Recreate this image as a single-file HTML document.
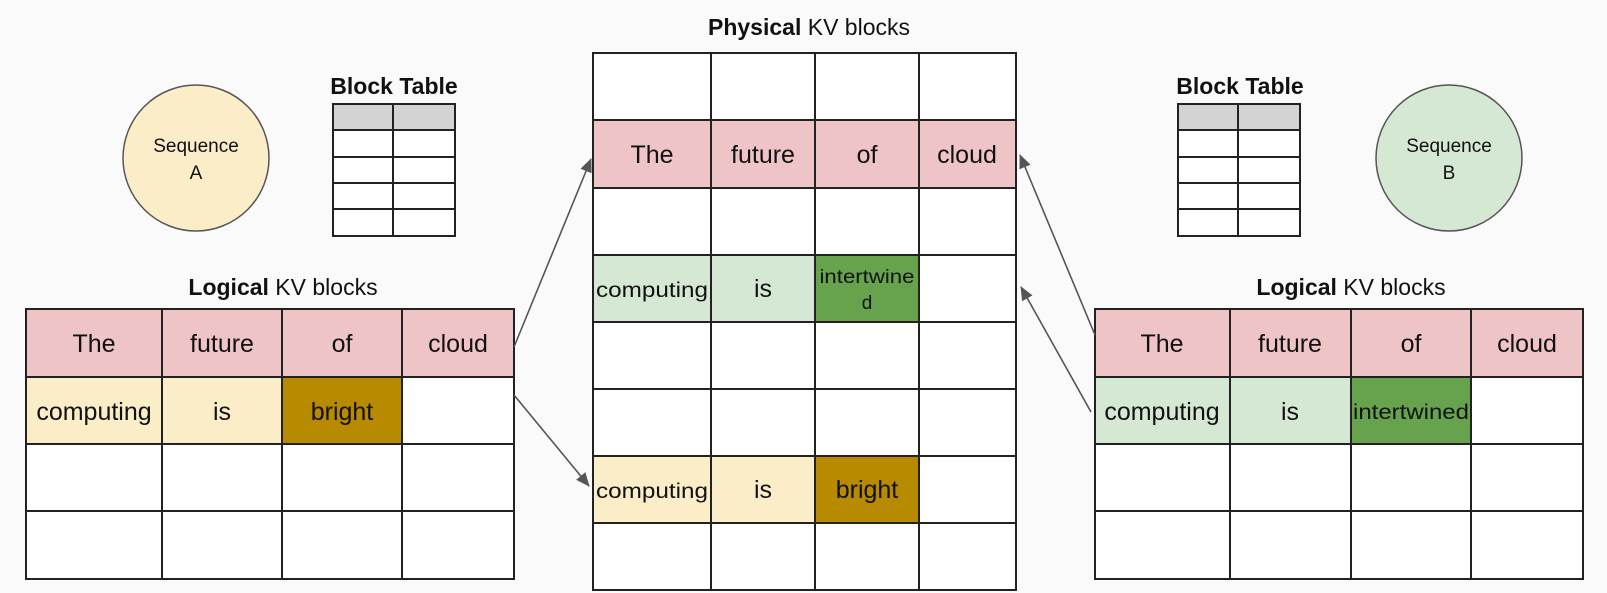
<!DOCTYPE html>
<html><head><style>
body{margin:0;background:#fafafa;}
svg{display:block}
text{font-family:"Liberation Sans",sans-serif;fill:#111;}
</style></head><body>
<svg width="1607" height="593" viewBox="0 0 1607 593" xmlns="http://www.w3.org/2000/svg">
<defs><marker id="ah" markerWidth="14" markerHeight="12" refX="13" refY="6" orient="auto" markerUnits="userSpaceOnUse"><path d="M0,0 L14,6 L0,12 Z" fill="#555"/></marker></defs>
<rect width="1607" height="593" fill="#fafafa"/>

<circle cx="196" cy="158" r="73" fill="#fbedc7" stroke="#555" stroke-width="1.5"/>
<text x="196" y="152" font-size="19" text-anchor="middle">Sequence</text>
<text x="196" y="179" font-size="19" text-anchor="middle">A</text>
<text x="394" y="94" font-size="23" font-weight="bold" text-anchor="middle">Block Table</text>
<g stroke="#222" stroke-width="2">
<rect x="333" y="104" width="122" height="26" fill="#d3d3d3"/>
<rect x="333" y="130" width="122" height="106" fill="#fff"/>
<line x1="393" y1="104" x2="393" y2="236"/>
<line x1="333" y1="157" x2="455" y2="157"/><line x1="333" y1="183" x2="455" y2="183"/><line x1="333" y1="209" x2="455" y2="209"/>
</g>
<circle cx="1449" cy="158" r="73" fill="#d5e8d4" stroke="#555" stroke-width="1.5"/>
<text x="1449" y="152" font-size="19" text-anchor="middle">Sequence</text>
<text x="1449" y="179" font-size="19" text-anchor="middle">B</text>
<text x="1240" y="94" font-size="23" font-weight="bold" text-anchor="middle">Block Table</text>
<g stroke="#222" stroke-width="2">
<rect x="1178" y="104" width="122" height="26" fill="#d3d3d3"/>
<rect x="1178" y="130" width="122" height="106" fill="#fff"/>
<line x1="1238" y1="104" x2="1238" y2="236"/>
<line x1="1178" y1="157" x2="1300" y2="157"/><line x1="1178" y1="183" x2="1300" y2="183"/><line x1="1178" y1="209" x2="1300" y2="209"/>
</g>

<text x="283" y="295" font-size="23" text-anchor="middle"><tspan font-weight="bold">Logical</tspan> KV blocks</text>
<g stroke="#222" stroke-width="2">
<rect x="26" y="309" width="488" height="270" fill="#fff"/>
<rect x="26" y="309" width="488" height="68" fill="#eec4c6"/>
<rect x="26" y="377" width="256" height="67" fill="#fbedc7"/>
<rect x="282" y="377" width="120" height="67" fill="#b88a00"/>
<line x1="162" y1="309" x2="162" y2="579"/><line x1="282" y1="309" x2="282" y2="579"/><line x1="402" y1="309" x2="402" y2="579"/>
<line x1="26" y1="377" x2="514" y2="377"/><line x1="26" y1="444" x2="514" y2="444"/><line x1="26" y1="511" x2="514" y2="511"/>
</g>
<g font-size="25" text-anchor="middle">
<text x="94" y="352">The</text><text x="222" y="352">future</text><text x="342" y="352">of</text><text x="458" y="352">cloud</text>
<text x="94" y="420">computing</text><text x="222" y="420">is</text><text x="342" y="420">bright</text>
</g>

<text x="1351" y="295" font-size="23" text-anchor="middle"><tspan font-weight="bold">Logical</tspan> KV blocks</text>
<g stroke="#222" stroke-width="2">
<rect x="1095" y="309" width="488" height="270" fill="#fff"/>
<rect x="1095" y="309" width="488" height="68" fill="#eec4c6"/>
<rect x="1095" y="377" width="256" height="67" fill="#d5e8d4"/>
<rect x="1351" y="377" width="120" height="67" fill="#67a34c"/>
<line x1="1230" y1="309" x2="1230" y2="579"/><line x1="1351" y1="309" x2="1351" y2="579"/><line x1="1471" y1="309" x2="1471" y2="579"/>
<line x1="1095" y1="377" x2="1583" y2="377"/><line x1="1095" y1="444" x2="1583" y2="444"/><line x1="1095" y1="511" x2="1583" y2="511"/>
</g>
<g font-size="25" text-anchor="middle">
<text x="1162" y="352">The</text><text x="1290" y="352">future</text><text x="1411" y="352">of</text><text x="1527" y="352">cloud</text>
<text x="1162" y="420">computing</text><text x="1290" y="420">is</text>
</g>
<text x="1411" y="419" font-size="21" text-anchor="middle" textLength="116" lengthAdjust="spacingAndGlyphs">intertwined</text>

<text x="809" y="35" font-size="23" text-anchor="middle"><tspan font-weight="bold">Physical</tspan> KV blocks</text>
<g stroke="#222" stroke-width="2">
<rect x="593" y="53" width="423" height="537" fill="#fff"/>
<rect x="593" y="120" width="423" height="68" fill="#eec4c6"/>
<rect x="593" y="255" width="222" height="67" fill="#d5e8d4"/>
<rect x="815" y="255" width="104" height="67" fill="#67a34c"/>
<rect x="593" y="456" width="222" height="67" fill="#fbedc7"/>
<rect x="815" y="456" width="104" height="67" fill="#b88a00"/>
<line x1="711" y1="53" x2="711" y2="590"/><line x1="815" y1="53" x2="815" y2="590"/><line x1="919" y1="53" x2="919" y2="590"/>
<line x1="593" y1="120" x2="1016" y2="120"/><line x1="593" y1="188" x2="1016" y2="188"/><line x1="593" y1="255" x2="1016" y2="255"/><line x1="593" y1="322" x2="1016" y2="322"/><line x1="593" y1="389" x2="1016" y2="389"/><line x1="593" y1="456" x2="1016" y2="456"/><line x1="593" y1="523" x2="1016" y2="523"/>
</g>
<g font-size="25" text-anchor="middle">
<text x="652" y="163">The</text><text x="763" y="163">future</text><text x="867" y="163">of</text><text x="967" y="163">cloud</text>
<text x="763" y="297">is</text><text x="763" y="498">is</text><text x="867" y="498">bright</text>
</g>
<text x="652" y="297" font-size="21" text-anchor="middle" textLength="112" lengthAdjust="spacingAndGlyphs">computing</text>
<text x="652" y="498" font-size="21" text-anchor="middle" textLength="112" lengthAdjust="spacingAndGlyphs">computing</text>
<text x="867" y="283" font-size="19" text-anchor="middle" textLength="95" lengthAdjust="spacingAndGlyphs">intertwine</text>
<text x="867" y="309" font-size="19" text-anchor="middle">d</text>

<g stroke="#555" stroke-width="1.6" fill="none" marker-end="url(#ah)">
<line x1="514" y1="347" x2="591" y2="159"/>
<line x1="514" y1="395" x2="589" y2="486"/>
<line x1="1095" y1="335" x2="1020" y2="155"/>
<line x1="1091" y1="412" x2="1021" y2="287"/>
</g>
</svg>
</body></html>
